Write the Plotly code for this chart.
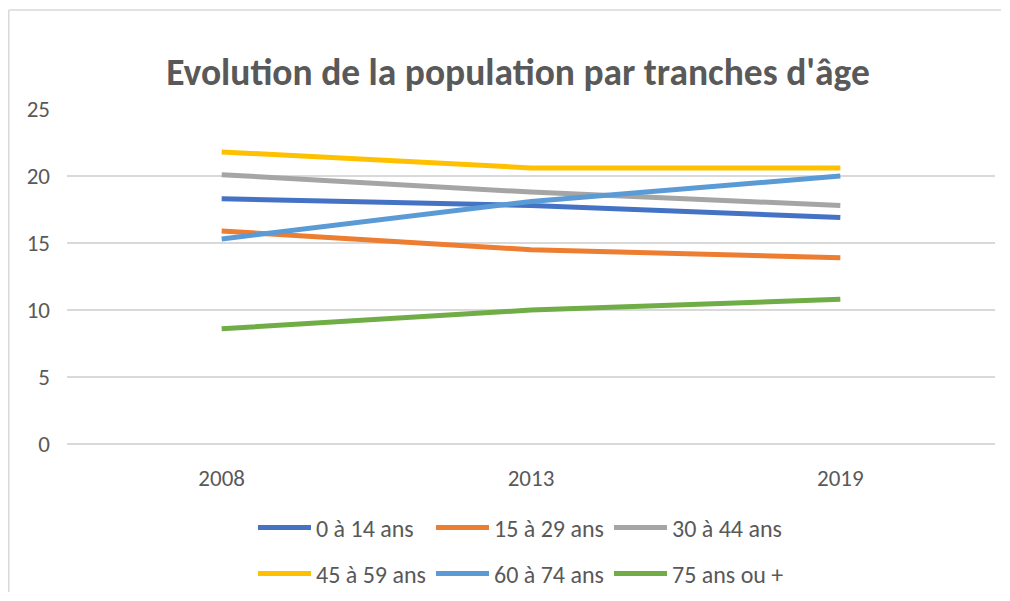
import plotly.graph_objects as go

years = ["2008", "2013", "2019"]
series_names = ["0 à 14 ans", "15 à 29 ans", "30 à 44 ans", "45 à 59 ans", "60 à 74 ans", "75 ans ou +"]
v_0_14 = [18.3, 17.8, 16.9]
v_15_29 = [15.9, 14.5, 13.9]
v_30_44 = [20.1, 18.8, 17.8]
v_45_59 = [21.8, 20.6, 20.6]
v_60_74 = [15.3, 18.1, 20.0]
v_75 = [8.6, 10.0, 10.8]
values = [v_0_14, v_15_29, v_30_44, v_45_59, v_60_74, v_75]
colors = ["#4472C4", "#ED7D31", "#A5A5A5", "#FFC000", "#5B9BD5", "#70AD47"]
title = "Evolution de la population par tranches d'âge"

FONT = "Carlito, Liberation Sans Narrow, Noto Sans, sans-serif"
OFF = 8  # page body margin
W, H = 1010 - 2 * OFF, 601 - 2 * OFF
L, T = 67 - OFF, 109 - OFF
R = W - (995 - OFF)
B = H - (444 - OFF)
PW, PH = W - L - R, H - T - B

def cx(x):  # page px -> container fraction
    return (x - OFF) / W

def cy(y):
    return 1 - (y - OFF) / H

def px(x):  # figure px -> paper fraction
    return (x - L) / PW

def py(y):
    return (H - B - y) / PH

fig = go.Figure()
for i, (name, vals, col) in enumerate(zip(series_names, values, colors)):
    fig.add_trace(go.Scatter(
        x=years, y=vals, name=name, mode="lines",
        line=dict(color=col, width=5),
        legend="legend" if i < 3 else "legend2",
    ))

legend_common = dict(
    orientation="h", xanchor="left", yanchor="middle",
    xref="container", yref="container",
    font=dict(family=FONT, size=24, color="#595959"),
    entrywidth=110, entrywidthmode="pixels",
    itemwidth=53, tracegroupgap=0, bgcolor="rgba(0,0,0,0)",
)

fig.update_layout(
    width=W, height=H,
    margin=dict(l=L, r=R, t=T, b=B, autoexpand=False),
    paper_bgcolor="white", plot_bgcolor="white",
    title=dict(text=f"<b>{title}</b>", x=cx(518), xanchor="center",
               y=cy(72), yanchor="middle",
               font=dict(family=FONT, size=37.5, color="#595959")),
    xaxis=dict(type="category", range=[-0.5, 2.5], showgrid=False,
               showline=False, zeroline=False, ticks="",
               tickfont=dict(family=FONT, size=23, color="#595959"),
               ticklabelstandoff=18),
    yaxis=dict(range=[0, 25], dtick=5, showgrid=True, gridcolor="#D9D9D9",
               gridwidth=1.5, zeroline=True, zerolinecolor="#D9D9D9",
               zerolinewidth=1.5, showline=False, ticks="",
               tickfont=dict(family=FONT, size=23, color="#595959"),
               ticklabelstandoff=16),
    legend=dict(x=cx(253), y=cy(528), **legend_common),
    legend2=dict(x=cx(253), y=cy(574), **legend_common),
    shapes=[
        dict(type="line", xref="paper", yref="paper",
             x0=px(0.75), x1=px(W - 1), y0=py(2), y1=py(2),
             line=dict(color="#D9D9D9", width=1.5), layer="below"),
        dict(type="line", xref="paper", yref="paper",
             x0=px(0.75), x1=px(0.75), y0=py(2), y1=py(H - 1),
             line=dict(color="#D9D9D9", width=1.5), layer="below"),
    ],
)

fig.write_html("out.html")
